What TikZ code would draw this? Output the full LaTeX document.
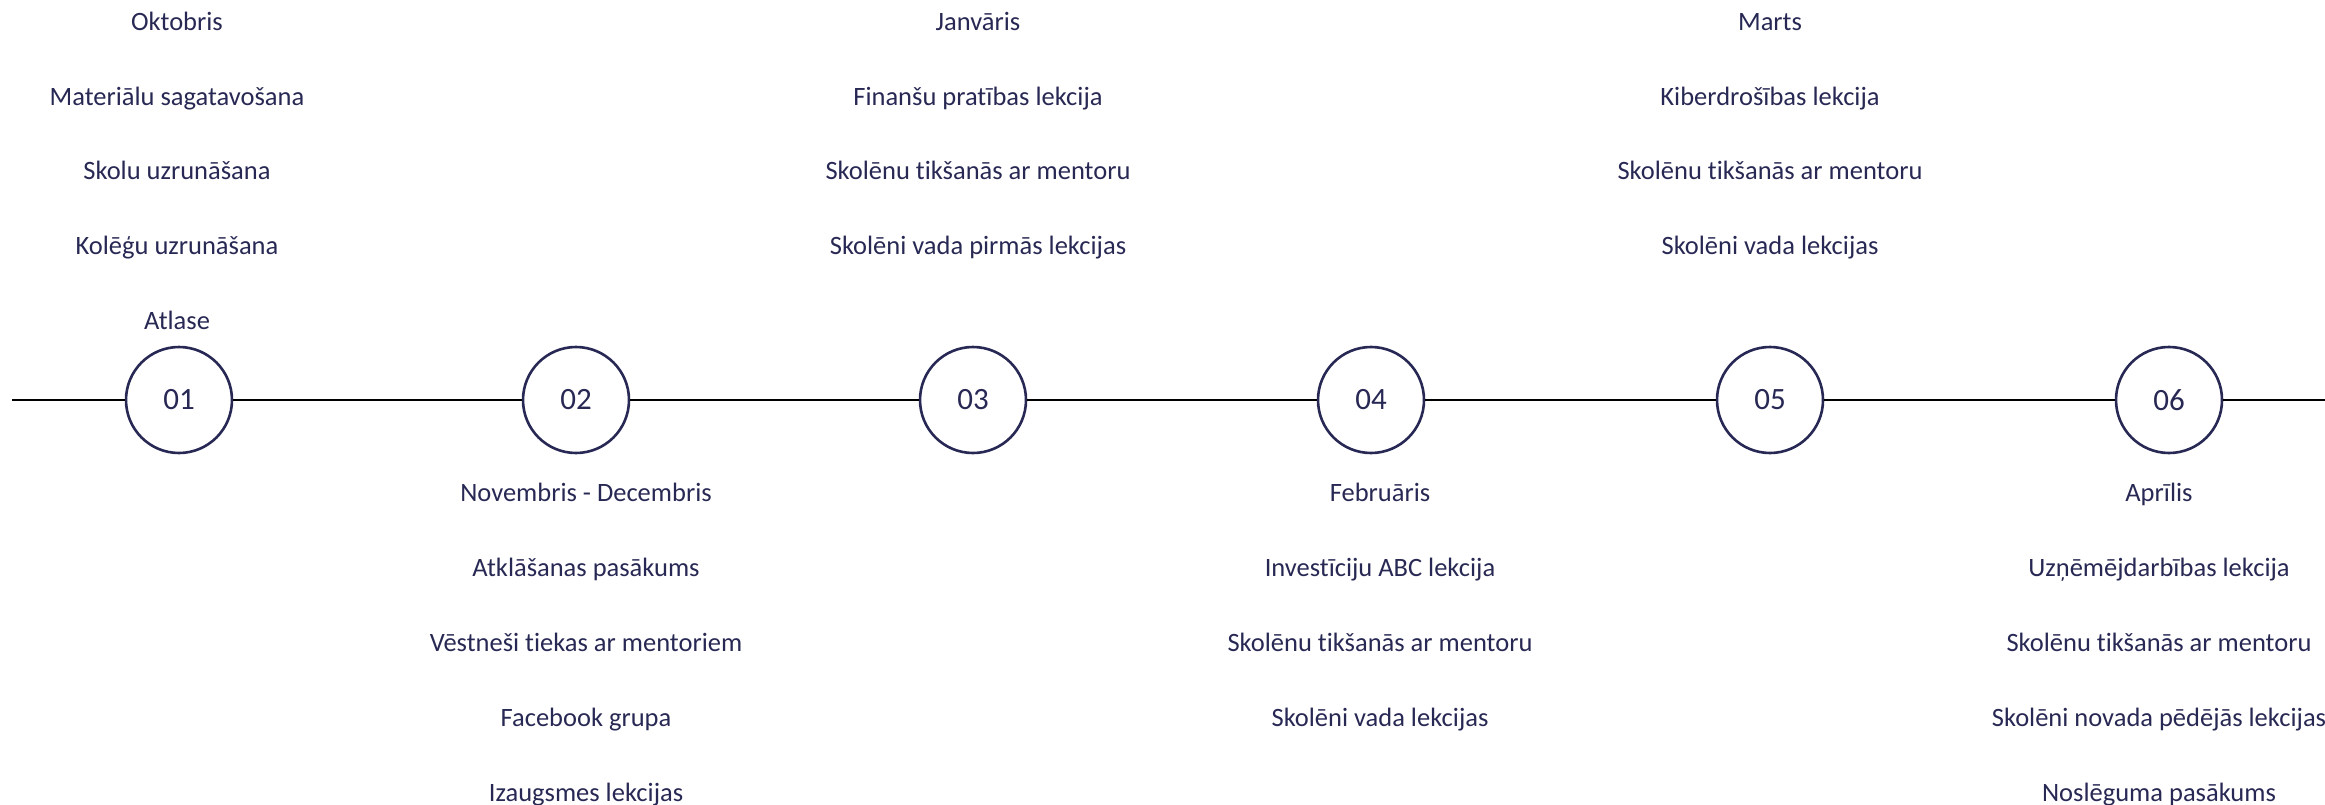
\documentclass[tikz,border=0pt]{standalone}
\usepackage{fontspec}
\setmainfont{Carlito}[Ligatures={NoCommon}]
\definecolor{navy}{RGB}{40,40,84}
\tikzset{
  x=1pt,y=-1pt,
  stage/.style={circle,draw=navy,line width=2.6pt,minimum size=106pt,inner sep=0pt,text=navy,font=\fontsize{31}{36}\selectfont},
  lbl/.style={anchor=base,text=navy,inner sep=0pt,font=\fontsize{26.5}{30}\selectfont},
  axis/.style={draw=black,line width=2.8pt}
}
\begin{document}
\begin{tikzpicture}
\useasboundingbox (0,0) rectangle (2325,805);
\coordinate (start) at (12,400);
\coordinate (stop) at (2325,400);
\node[stage] (s1) at (179,400) {01};
\node[stage] (s2) at (576,400) {02};
\node[stage] (s3) at (973,400) {03};
\node[stage] (s4) at (1371,400) {04};
\node[stage] (s5) at (1770,400) {05};
\node[stage] (s6) at (2169,400) {06};
\draw[axis] (start) -- (s1.west);
\draw[axis] (s1.east) -- (s2.west);
\draw[axis] (s2.east) -- (s3.west);
\draw[axis] (s3.east) -- (s4.west);
\draw[axis] (s4.east) -- (s5.west);
\draw[axis] (s5.east) -- (s6.west);
\draw[axis] (s6.east) -- (stop);
% column 1 (top)
\node[lbl] (a1) at (177,31) {Oktobris};
\node[lbl] (a2) at (177,105.5) {Materiālu sagatavošana};
\node[lbl] (a3) at (177,180) {Skolu uzrunāšana};
\node[lbl] (a4) at (177,254.5) {Kolēģu uzrunāšana};
\node[lbl] (a5) at (177,329) {Atlase};
% column 2 (bottom)
\node[lbl] (b1) at (586,501.5) {Novembris - Decembris};
\node[lbl] (b2) at (586,576.5) {Atklāšanas pasākums};
\node[lbl] (b3) at (586,651.5) {Vēstneši tiekas ar mentoriem};
\node[lbl] (b4) at (586,726.5) {Facebook grupa};
\node[lbl] (b5) at (586,801.5) {Izaugsmes lekcijas};
% column 3 (top)
\node[lbl] (c1) at (978,31) {Janvāris};
\node[lbl] (c2) at (978,105.5) {Finanšu pratības lekcija};
\node[lbl] (c3) at (978,180) {Skolēnu tikšanās ar mentoru};
\node[lbl] (c4) at (978,254.5) {Skolēni vada pirmās lekcijas};
% column 4 (bottom)
\node[lbl] (d1) at (1380,501.5) {Februāris};
\node[lbl] (d2) at (1380,576.5) {Investīciju ABC lekcija};
\node[lbl] (d3) at (1380,651.5) {Skolēnu tikšanās ar mentoru};
\node[lbl] (d4) at (1380,726.5) {Skolēni vada lekcijas};
% column 5 (top)
\node[lbl] (e1) at (1770,31) {Marts};
\node[lbl] (e2) at (1770,105.5) {Kiberdrošības lekcija};
\node[lbl] (e3) at (1770,180) {Skolēnu tikšanās ar mentoru};
\node[lbl] (e4) at (1770,254.5) {Skolēni vada lekcijas};
% column 6 (bottom)
\node[lbl] (f1) at (2159,501.5) {Aprīlis};
\node[lbl] (f2) at (2159,576.5) {Uzņēmējdarbības lekcija};
\node[lbl] (f3) at (2159,651.5) {Skolēnu tikšanās ar mentoru};
\node[lbl] (f4) at (2159,726.5) {Skolēni novada pēdējās lekcijas};
\node[lbl] (f5) at (2159,801.5) {Noslēguma pasākums};
\end{tikzpicture}
\end{document}
